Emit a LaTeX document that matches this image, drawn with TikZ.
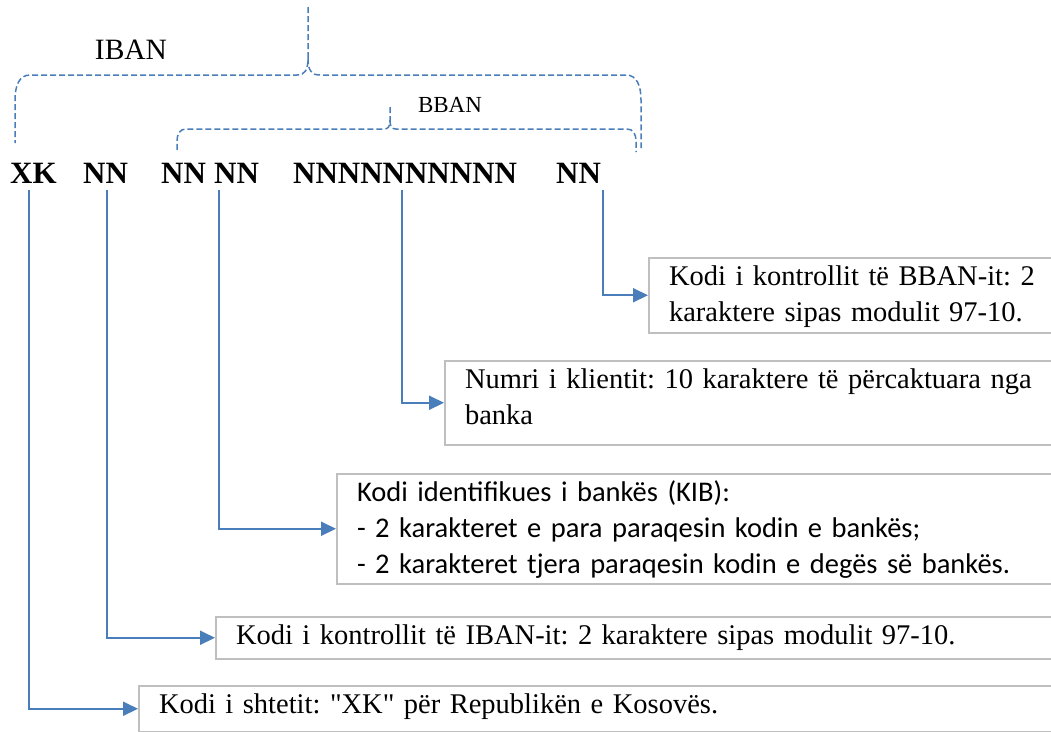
\documentclass[tikz,border=0pt]{standalone}
\usepackage{fontspec}
\setmainfont{Liberation Serif}
\newfontfamily\plainserif{Liberation Serif}
\newfontfamily\calibrifont{Carlito}
\usepackage{tikz}
\usetikzlibrary{arrows.meta,positioning}
\definecolor{IbanBlue}{HTML}{4A7EBB}
\definecolor{IbanGray}{HTML}{BFBFBF}
\frenchspacing
\tikzset{
  codetext/.style={anchor=base west,inner xsep=0pt,inner ysep=7pt,font=\fontsize{31}{36}\selectfont\bfseries},
  infobox/.style={draw=IbanGray,line width=2pt,anchor=north west,align=left,inner xsep=20pt,inner ysep=7.5pt,text height=20pt,font=\fontsize{28.5}{35.5}\selectfont\frenchspacing},
  linkarrow/.style={-{Triangle[length=15pt,width=14pt]},line width=2pt,draw=IbanBlue},
  bracepath/.style={draw=IbanBlue,line width=1.5pt,dash pattern=on 6pt off 3pt}
}
\begin{document}
\begin{tikzpicture}[x=1pt,y=-1pt]
\useasboundingbox[fill=white] (0,0) rectangle (1051,731);
\clip (0,0) rectangle (1051,731);
% braces
\draw[bracepath] (308,7) -- (308,58) .. controls (308,70) and (305,75) .. (297,75) -- (30,75) .. controls (19,75) and (15,86) .. (15,100) -- (15,143);
\draw[bracepath] (308,58) .. controls (308,70) and (311,75) .. (320,75) -- (626,75) .. controls (637,75) and (641,86) .. (641,100) -- (641,148);
\draw[bracepath] (390,107) -- (390,120) .. controls (390,127) and (388,129) .. (384,129) -- (186,129) .. controls (180,129) and (177,134) .. (177,141) -- (177,152);
\draw[bracepath] (390,120) .. controls (390,127) and (392,129) .. (396,129) -- (627,129) .. controls (633,129) and (636,134) .. (636,141) -- (636,152);
\node[anchor=base,font=\fontsize{29.5}{35}\selectfont] (ibanlabel) at (131,59) {IBAN};
\node[anchor=base,font=\fontsize{23}{28}\selectfont] (bbanlabel) at (450,112) {BBAN};
% code
\node[codetext] (xk) at (10,183) {XK};
\node[codetext] (nn1) at (83,183) {NN};
\node[codetext] (nn2) at (161,183) {NN};
\node[codetext] (nn3) at (214,183) {NN};
\node[codetext] (nnum) at (293,183) {NNNNNNNNNN};
\node[codetext] (nn4) at (556,183) {NN};
% boxes
\node[infobox,text width=392pt,text depth=39.5pt] (bbankontroll) at (648,257) {Kodi i kontrollit të BBAN-it: 2\\karaktere sipas modulit 97-10.};
\node[infobox,text width=596pt,text depth=48.5pt] (klienti) at (444,360) {Numri i klientit: 10 karaktere të përcaktuara nga\\banka};
\node[infobox,text width=704pt,text depth=74.5pt,font={\calibrifont\fontsize{28.5}{36}\selectfont}] (kib) at (336,473) {Kodi identifikues i bankës (KIB):\\- 2 karakteret e para paraqesin kodin e bankës;\\- 2 karakteret tjera paraqesin kodin e degës së bankës.};
\node[infobox,text width=825pt,text depth=6.5pt] (ibankontroll) at (215,616) {Kodi i kontrollit të IBAN-it: 2 karaktere sipas modulit 97-10.};
\node[infobox,text width=902pt,text depth=10.5pt] (shteti) at (138,685) {Kodi i shtetit: {\plainserif"}XK{\plainserif"} për Republikën e Kosovës.};
% connectors
\draw[linkarrow] ([xshift=18.5pt]xk.south west) |- (shteti.west);
\draw[linkarrow] ([xshift=24pt]nn1.south west) |- (ibankontroll.west);
\draw[linkarrow] ([xshift=5pt]nn3.south west) |- (kib.west);
\draw[linkarrow] ([xshift=109pt]nnum.south west) |- (klienti.west);
\draw[linkarrow] ([xshift=2pt]nn4.south east) |- (bbankontroll.west);
\end{tikzpicture}
\end{document}
